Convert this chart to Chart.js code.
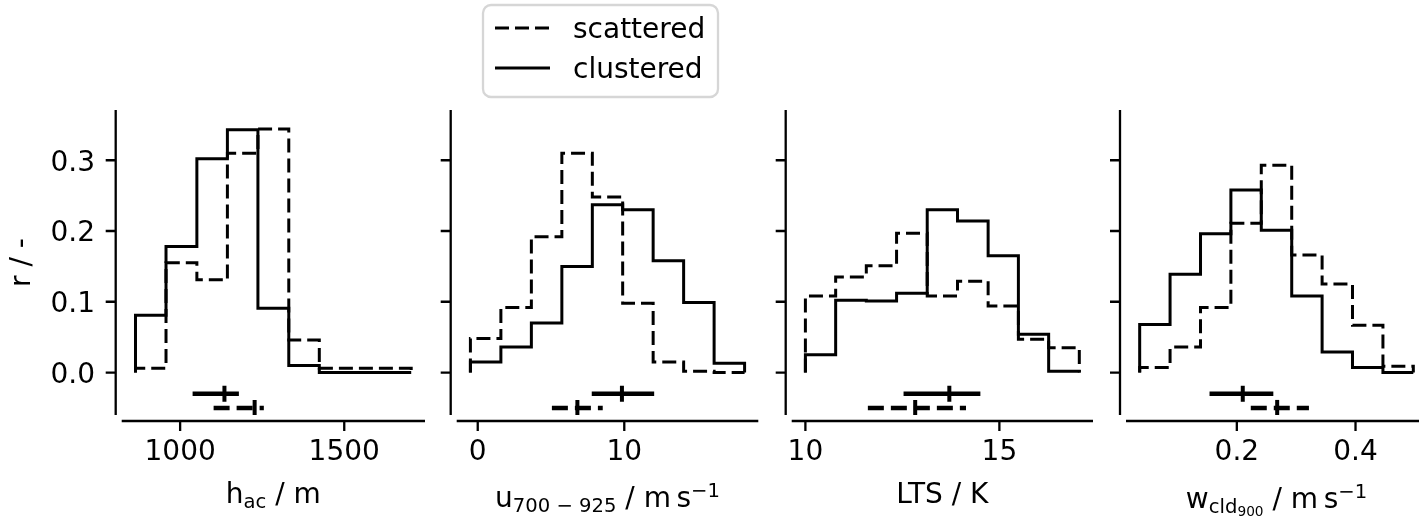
<!DOCTYPE html>
<html>
<head>
<meta charset="utf-8">
<script src="https://cdn.jsdelivr.net/npm/chart.js@4"></script>
<style>
  html, body { margin: 0; padding: 0; background: #fff; overflow: hidden; width: 1419px; height: 519px; }
  canvas.panel { position: absolute; top: 0; }
</style>
</head>
<body>
<canvas id="hac" class="panel" width="440" height="519" style="left:0px"></canvas>
<canvas id="wind" class="panel" width="335" height="519" style="left:440px"></canvas>
<canvas id="lts" class="panel" width="335" height="519" style="left:775px"></canvas>
<canvas id="wcld" class="panel" width="330" height="519" style="left:1110px"></canvas>
<script>
// relative frequency per bin, 9 bins per variable
const seriesNames = ["scattered", "clustered"];

const hacEdges = [864, 957, 1051, 1144, 1237, 1331, 1424, 1517, 1611, 1704];
const hacScattered = [0.006, 0.155, 0.131, 0.310, 0.344, 0.046, 0.006, 0.006, 0.006];
const hacClustered = [0.081, 0.178, 0.302, 0.343, 0.091, 0.010, 0.000, 0.000, 0.000];
// lower quartile, median, upper quartile
const hacScatteredStat = [1102, 1227, 1255];
const hacClusteredStat = [1038, 1135, 1179];

const windEdges = [-0.50, 1.58, 3.66, 5.74, 7.82, 9.89, 11.97, 14.05, 16.13, 18.21];
const windScattered = [0.048, 0.092, 0.192, 0.310, 0.248, 0.098, 0.015, 0.002, 0.000];
const windClustered = [0.015, 0.036, 0.070, 0.150, 0.237, 0.230, 0.158, 0.099, 0.013];
const windScatteredStat = [5.06, 6.80, 8.53];
const windClusteredStat = [7.78, 9.84, 12.04];

const ltsEdges = [10.00, 10.78, 11.57, 12.35, 13.14, 13.92, 14.71, 15.49, 16.27, 17.06];
const ltsScattered = [0.108, 0.135, 0.151, 0.197, 0.108, 0.129, 0.094, 0.047, 0.035];
const ltsClustered = [0.025, 0.102, 0.101, 0.112, 0.230, 0.214, 0.165, 0.054, 0.002];
const ltsScatteredStat = [11.61, 12.83, 14.14];
const ltsClusteredStat = [12.53, 13.71, 14.51];

const wcldEdges = [0.0363, 0.0875, 0.1388, 0.1900, 0.2412, 0.2925, 0.3437, 0.3949, 0.4462, 0.4974];
const wcldScattered = [0.007, 0.036, 0.092, 0.211, 0.293, 0.166, 0.125, 0.067, 0.009];
const wcldClustered = [0.068, 0.139, 0.196, 0.258, 0.201, 0.108, 0.029, 0.007, 0.000];
const wcldScatteredStat = [0.2235, 0.268, 0.3215];
const wcldClusteredStat = [0.154, 0.210, 0.2615];

const yTicks = [0.0, 0.1, 0.2, 0.3];
const hacTicks = [1000, 1500];
const windTicks = [0, 10];
const ltsTicks = [10, 15];
const wcldTicks = [0.2, 0.4];

const FONT = '"DejaVu Sans", sans-serif';
const MAIN = 28, SUB = 19.6, SUBSUB = 13.7;
const HIST_DASH = [14, 6];
const STAT_DASH = [16, 7];
const STAT_Y = { scattered: -0.05, clustered: -0.03 };

// outline of a step histogram: up at the first edge, down at the last one
function stepOutline(edges, heights) {
  const pts = [{ x: edges[0], y: 0 }];
  heights.forEach((h, i) => {
    pts.push({ x: edges[i], y: h }, { x: edges[i + 1], y: h });
  });
  pts.push({ x: edges[edges.length - 1], y: 0 });
  return pts;
}

// spines drawn a few pixels away from the plot area, seaborn style
const offsetSpines = {
  id: "offsetSpines",
  afterDraw(chart) {
    const { ctx, chartArea: a, scales } = chart;
    const off = 6, tick = 10;
    ctx.save();
    ctx.strokeStyle = "#000";
    ctx.lineWidth = 2.3;
    ctx.beginPath();
    const sx = a.left - off;
    ctx.moveTo(sx, a.top);
    ctx.lineTo(sx, a.bottom);
    scales.y.ticks.forEach(t => {
      const py = scales.y.getPixelForValue(t.value);
      ctx.moveTo(sx - tick, py);
      ctx.lineTo(sx, py);
    });
    const sy = a.bottom + off;
    ctx.moveTo(a.left, sy);
    ctx.lineTo(a.right, sy);
    scales.x.ticks.forEach(t => {
      const px = scales.x.getPixelForValue(t.value);
      ctx.moveTo(px, sy);
      ctx.lineTo(px, sy + tick);
    });
    ctx.stroke();
    ctx.restore();
  }
};

// x axis title with sub/superscripts
const richTitle = {
  id: "richTitle",
  afterDraw(chart, args, opts) {
    if (!opts.runs) return;
    const { ctx, chartArea: a } = chart;
    ctx.save();
    ctx.fillStyle = "#000";
    ctx.textBaseline = "alphabetic";
    ctx.textAlign = "left";
    let total = 0;
    opts.runs.forEach(r => {
      ctx.font = `${r.size || MAIN}px ${FONT}`;
      r.w = ctx.measureText(r.text).width;
      total += r.w;
    });
    let cx = (a.left + a.right) / 2 - total / 2;
    opts.runs.forEach(r => {
      ctx.font = `${r.size || MAIN}px ${FONT}`;
      ctx.fillText(r.text, cx, opts.baseline + (r.dy || 0));
      cx += r.w;
    });
    ctx.restore();
  }
};

// framed legend above the second panel
const legendBox = {
  id: "legendBox",
  afterDraw(chart, args, o) {
    if (!o.show) return;
    const ctx = chart.ctx;
    ctx.save();
    ctx.beginPath();
    ctx.roundRect(o.x, o.y, o.w, o.h, 8);
    ctx.fillStyle = "#fff";
    ctx.fill();
    ctx.strokeStyle = "#d6d6d6";
    ctx.lineWidth = 2.3;
    ctx.stroke();
    seriesNames.forEach((name, i) => {
      const ds = chart.data.datasets[i];
      const cy = o.y + 23 + i * 40;
      ctx.beginPath();
      ctx.setLineDash(ds.borderDash || []);
      ctx.lineWidth = 3;
      ctx.strokeStyle = "#000";
      ctx.moveTo(o.x + 12, cy);
      ctx.lineTo(o.x + 67, cy);
      ctx.stroke();
      ctx.setLineDash([]);
      ctx.font = `${MAIN}px ${FONT}`;
      ctx.fillStyle = "#000";
      ctx.fillText(name, o.x + 90, cy + 9.5);
    });
    ctx.restore();
  }
};

function histPanel(id, p) {
  const span = p.edges[p.edges.length - 1] - p.edges[0];
  const statLine = (stat, y, dash) => ({
    data: [{ x: stat[0], y: y }, { x: stat[2], y: y }],
    borderColor: "#000",
    borderWidth: 4.5,
    borderDash: dash,
    borderCapStyle: "butt",
    pointRadius: 0
  });
  const statMark = (stat, y) => ({
    data: [{ x: stat[1], y: y }],
    showLine: false,
    pointStyle: "line",
    rotation: 90,
    pointRadius: 8,
    pointBorderWidth: 4,
    pointBorderColor: "#000",
    borderColor: "#000"
  });

  new Chart(document.getElementById(id), {
    type: "line",
    data: {
      datasets: [
        {
          label: seriesNames[0],
          data: stepOutline(p.edges, p.scattered),
          borderColor: "#000",
          borderWidth: 3,
          borderDash: HIST_DASH,
          borderJoinStyle: "miter",
          pointRadius: 0,
          fill: false
        },
        {
          label: seriesNames[1],
          data: stepOutline(p.edges, p.clustered),
          borderColor: "#000",
          borderWidth: 3,
          borderJoinStyle: "miter",
          pointRadius: 0,
          fill: false
        },
        statLine(p.scatteredStat, STAT_Y.scattered, STAT_DASH),
        statLine(p.clusteredStat, STAT_Y.clustered, []),
        statMark(p.scatteredStat, STAT_Y.scattered),
        statMark(p.clusteredStat, STAT_Y.clustered)
      ]
    },
    options: {
      responsive: false,
      animation: false,
      events: [],
      layout: { padding: { left: 0, right: p.padRight, top: 110, bottom: 0 } },
      plugins: {
        legend: { display: false },
        tooltip: { enabled: false },
        richTitle: { runs: p.title, baseline: p.titleBaseline },
        legendBox: { show: !!p.legend, x: 43, y: 5, w: 235, h: 92 }
      },
      scales: {
        x: {
          type: "linear",
          min: p.edges[0] - 0.05 * span,
          max: p.edges[p.edges.length - 1] + 0.05 * span,
          grid: { display: false, drawTicks: false },
          border: { display: false },
          ticks: {
            font: { family: FONT, size: MAIN },
            color: "#000",
            padding: 21,
            maxRotation: 0,
            callback: p.tickFormat
          },
          afterBuildTicks: s => { s.ticks = p.ticks.map(v => ({ value: v })); },
          // fixed height, and no extra room reserved for the outer tick labels
          afterFit: s => { s.height = 104; s.paddingLeft = 0; s.paddingRight = 0; }
        },
        y: {
          type: "linear",
          min: -0.06,
          max: 0.371,
          grid: { display: false, drawTicks: false },
          border: { display: false },
          ticks: {
            display: !!p.yLabels,
            font: { family: FONT, size: MAIN },
            color: "#000",
            padding: 26.7,
            labelOffset: 3,
            callback: v => v.toFixed(1)
          },
          title: {
            display: !!p.yLabels,
            text: "r / -",
            font: { family: FONT, size: MAIN },
            color: "#000",
            padding: { top: 6, bottom: 0 }
          },
          afterBuildTicks: s => { s.ticks = yTicks.map(v => ({ value: v })); },
          afterFit: s => { s.width = p.yWidth; s.paddingTop = 0; s.paddingBottom = 0; }
        }
      }
    },
    plugins: [offsetSpines, richTitle, legendBox]
  });
}

histPanel("hac", {
  edges: hacEdges, scattered: hacScattered, clustered: hacClustered,
  scatteredStat: hacScatteredStat, clusteredStat: hacClusteredStat,
  ticks: hacTicks, tickFormat: v => String(v),
  yLabels: true, yWidth: 121.7, padRight: 15,
  title: [{ text: "h" }, { text: "ac", size: SUB, dy: 5 }, { text: " / m" }],
  titleBaseline: 503
});

histPanel("wind", {
  edges: windEdges, scattered: windScattered, clustered: windClustered,
  scatteredStat: windScatteredStat, clusteredStat: windClusteredStat,
  ticks: windTicks, tickFormat: v => String(v),
  yWidth: 16.7, padRight: 16.7, legend: true,
  title: [
    { text: "u" }, { text: "700 \u2212 925", size: SUB, dy: 5 },
    { text: " / m\u2009s" }, { text: "\u22121", size: SUB, dy: -10 }
  ],
  titleBaseline: 507
});

histPanel("lts", {
  edges: ltsEdges, scattered: ltsScattered, clustered: ltsClustered,
  scatteredStat: ltsScatteredStat, clusteredStat: ltsClusteredStat,
  ticks: ltsTicks, tickFormat: v => String(v),
  yWidth: 16.7, padRight: 17,
  title: [{ text: "LTS / K" }],
  titleBaseline: 503
});

histPanel("wcld", {
  edges: wcldEdges, scattered: wcldScattered, clustered: wcldClustered,
  scatteredStat: wcldScatteredStat, clusteredStat: wcldClusteredStat,
  ticks: wcldTicks, tickFormat: v => v.toFixed(1),
  yWidth: 16, padRight: 13,
  title: [
    { text: "w" }, { text: "cld", size: SUB, dy: 5 }, { text: "900", size: SUBSUB, dy: 8 },
    { text: " / m\u2009s" }, { text: "\u22121", size: SUB, dy: -10 }
  ],
  titleBaseline: 508
});
</script>
</body>
</html>
